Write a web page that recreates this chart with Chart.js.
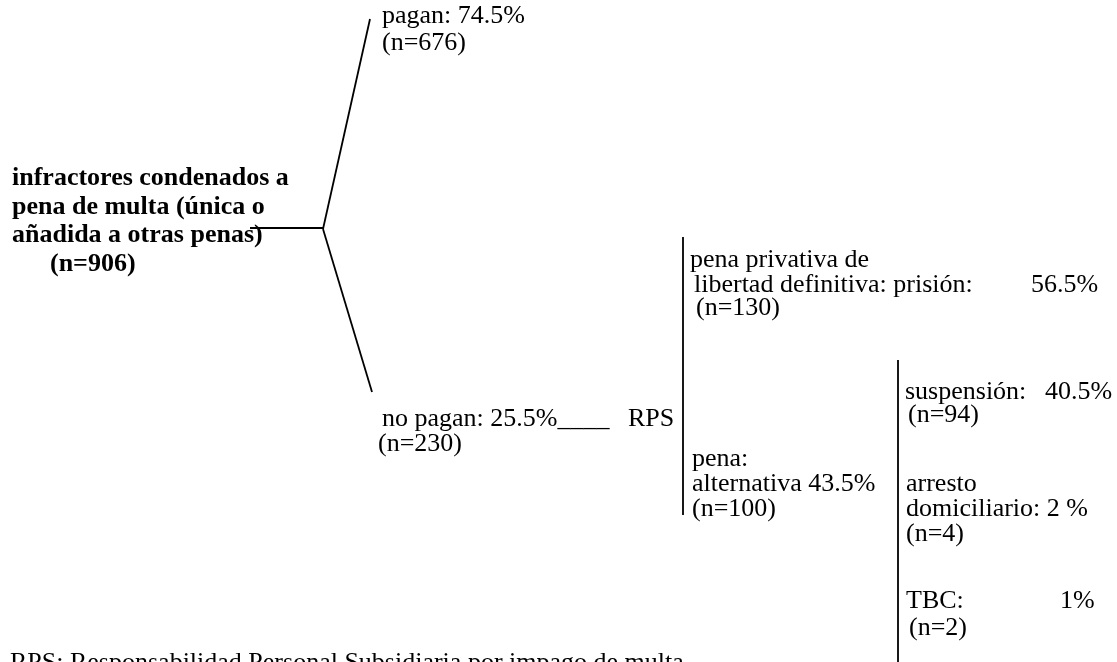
<!DOCTYPE html>
<html>
<head>
<meta charset="utf-8">
<script src="https://cdn.jsdelivr.net/npm/chart.js@4"></script>
<style>
  html, body { margin: 0; padding: 0; background: #fff; }
  #wrap { width: 1117px; height: 662px; position: relative; }
</style>
</head>
<body>
<div id="wrap"><canvas id="myChart"></canvas></div>
<script>
// --- data ---
const rootLabel = ["infractores condenados a", "pena de multa (única o", "añadida a otras penas)"];
const rootN = 906;
const payNames = ["pagan", "no pagan"];
const payPct = [74.5, 25.5];
const payN = [676, 230];
const rpsNames = ["prisión", "alternativa"];
const rpsPct = [56.5, 43.5];
const rpsN = [130, 100];
const altNames = ["suspensión", "arresto domiciliario", "TBC"];
const altPct = [40.5, 2, 1];
const altN = [94, 4, 2];
const footnote = "RPS: Responsabilidad Personal Subsidiaria por impago de multa";

// --- layout (diagram units = pixels of the 1117x662 page) ---
const W = 1117, H = 662;
const fork = { x: 323, y: 229 };
const connectors = [
  [{ x: 250, y: 228 }, { x: 323, y: 228 }],
  [fork, { x: 370, y: 19 }],
  [fork, { x: 372, y: 392 }],
  [{ x: 683, y: 237 }, { x: 683, y: 515 }],
  [{ x: 898, y: 360 }, { x: 898, y: 662 }],
];

// text blocks: [x, baseline y, text, bold]
const texts = [
  [12, 185, rootLabel[0], true],
  [12, 214, rootLabel[1], true],
  [12, 242, rootLabel[2], true],
  [50, 271, `(n=${rootN})`, true],
  [382, 23, `${payNames[0]}: ${payPct[0]}%`],
  [382, 50, `(n=${payN[0]})`],
  [382, 426, `${payNames[1]}: ${payPct[1]}%____`],
  [628, 426, "RPS"],
  [378, 451, `(n=${payN[1]})`],
  [690, 267, "pena privativa de"],
  [694, 292, `libertad definitiva: ${rpsNames[0]}:`],
  [1031, 292, `${rpsPct[0]}%`],
  [696, 315, `(n=${rpsN[0]})`],
  [692, 466, "pena:"],
  [692, 491, `${rpsNames[1]} ${rpsPct[1]}%`],
  [692, 516, `(n=${rpsN[1]})`],
  [905, 399, `${altNames[0]}:`],
  [1045, 399, `${altPct[0]}%`],
  [908, 422, `(n=${altN[0]})`],
  [906, 491, altNames[1].split(" ")[0]],
  [906, 516, `${altNames[1].split(" ")[1]}: ${altPct[1]} %`],
  [906, 541, `(n=${altN[1]})`],
  [906, 608, `${altNames[2]}:`],
  [1060, 608, `${altPct[2]}%`],
  [909, 635, `(n=${altN[2]})`],
  [10, 670, footnote],
];

const textPlugin = {
  id: "treeText",
  afterDatasetsDraw(chart) {
    const { ctx, scales } = chart;
    ctx.save();
    ctx.fillStyle = "#000";
    ctx.textBaseline = "alphabetic";
    texts.forEach(([x, y, str, bold]) => {
      ctx.font = (bold ? "bold 26px" : "26px") + ' "Liberation Serif", "Times New Roman", serif';
      ctx.fillText(str, scales.x.getPixelForValue(x), scales.y.getPixelForValue(y));
    });
    ctx.restore();
  },
};

const ctx = document.getElementById("myChart");
new Chart(ctx, {
  type: "scatter",
  data: {
    datasets: connectors.map((seg) => ({
      data: seg,
      showLine: true,
      borderColor: "#000",
      borderWidth: 1.8,
      pointRadius: 0,
      fill: false,
    })),
  },
  options: {
    responsive: true,
    maintainAspectRatio: false,
    animation: false,
    layout: { padding: 0 },
    scales: {
      x: { type: "linear", min: 0, max: W, display: false },
      y: { type: "linear", min: 0, max: H, reverse: true, display: false },
    },
    plugins: {
      legend: { display: false },
      tooltip: { enabled: false },
    },
  },
  plugins: [textPlugin],
});
</script>
</body>
</html>
